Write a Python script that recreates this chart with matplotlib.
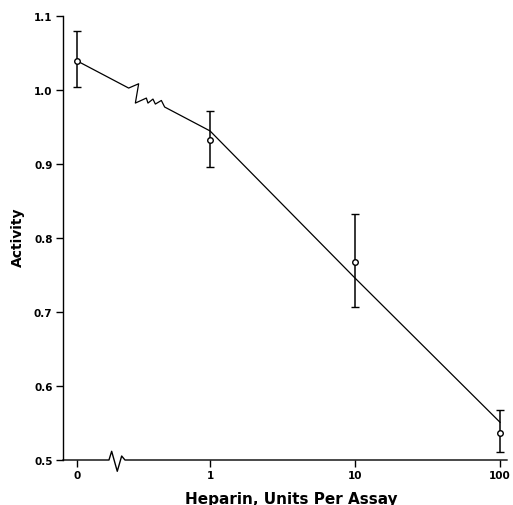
import matplotlib
matplotlib.use('Agg')
import matplotlib.pyplot as plt
import numpy as np

# ---- data ----
doses = [0, 1, 10, 100]
dose_labels = ['0', '1', '10', '100']
activity = [1.040, 0.933, 0.768, 0.536]
err_lower = [0.035, 0.037, 0.061, 0.025]
err_upper = [0.040, 0.039, 0.065, 0.031]
fit_activity = [1.040, 0.945, 0.746, 0.551]
y_ticks = [0.5, 0.6, 0.7, 0.8, 0.9, 1.0, 1.1]
y_tick_labels = ['0.5', '0.6', '0.7', '0.8', '0.9', '1.0', '1.1']

ZERO_POS = -0.92  # where "0" sits on the broken log axis
xpos = [ZERO_POS if d == 0 else np.log10(d) for d in doses]

plt.rcParams['font.family'] = ['DejaVu Sans']
fig = plt.figure(figsize=(5.13, 5.06), dpi=100)
ax = fig.add_axes([63 / 513, 45 / 506, 444 / 513, 443.7 / 506])
ax.set_xlim(-1.014, 2.048)
ax.set_ylim(0.5, 1.1)
for s in ['top', 'right', 'bottom']:
    ax.spines[s].set_visible(False)
ax.spines['left'].set_linewidth(1.0)

ax.set_xticks(xpos, dose_labels)
ax.set_yticks(y_ticks, y_tick_labels)
ax.tick_params(direction='out', length=5, width=1, labelsize=7.5, pad=2.5)
for lab in ax.get_xticklabels() + ax.get_yticklabels():
    lab.set_fontweight('bold')

T = ax.transData
inv = T.inverted()

# fitted line with a zig-zag break between 0 and 1
disp = T.transform(np.column_stack([xpos, fit_activity]))
p0, p1 = disp[0], disp[1]
start = p0 + 0.39 * (p1 - p0)
slope = (p1[1] - p0[1]) / (p1[0] - p0[0])
zig = [(10, 4.3), (6.7, -15), (17.7, -10), (19.3, -15), (24.3, -11),
       (26.7, -16), (32.7, -12.4)]
pts = [p0, start] + [start + np.array(z) for z in zig]
end = np.array([start[0] + 36, start[1] + slope * 36])
pts += [end, p1, disp[2], disp[3]]
pts = inv.transform(np.array(pts))
ax.plot(pts[:, 0], pts[:, 1], color='black', lw=0.9, zorder=2, clip_on=False)

# x-axis line with break symbol
y0 = T.transform((0, 0.5))[1]
xl = T.transform((-1.014, 0.5))[0]
xr = T.transform((2.048, 0.5))[0]
bx = T.transform((-0.697, 0.5))[0]
axis_pts = [(xl, y0), (bx, y0), (bx + 2.7, y0 + 8.7), (bx + 8.3, y0 - 11.3),
            (bx + 12.7, y0 + 4), (bx + 16, y0), (xr, y0)]
axis_pts = inv.transform(np.array(axis_pts))
ax.plot(axis_pts[:, 0], axis_pts[:, 1], color='black', lw=1.0, clip_on=False,
        zorder=2)

ax.errorbar(xpos, activity, yerr=[err_lower, err_upper], fmt='o',
            mfc='white', mec='black', mew=1.0, ms=4, ecolor='black',
            elinewidth=1.1, capsize=3, capthick=1.1, zorder=3, clip_on=False)

ax.set_xlabel('Heparin, Units Per Assay', fontsize=11, fontweight='bold')
ax.xaxis.set_label_coords(0.5135, -0.0699)
ax.set_ylabel('Activity', fontsize=10, fontweight='bold')
ax.yaxis.set_label_coords(-0.0856, 0.505)

fig.savefig('out.png', dpi=100)
